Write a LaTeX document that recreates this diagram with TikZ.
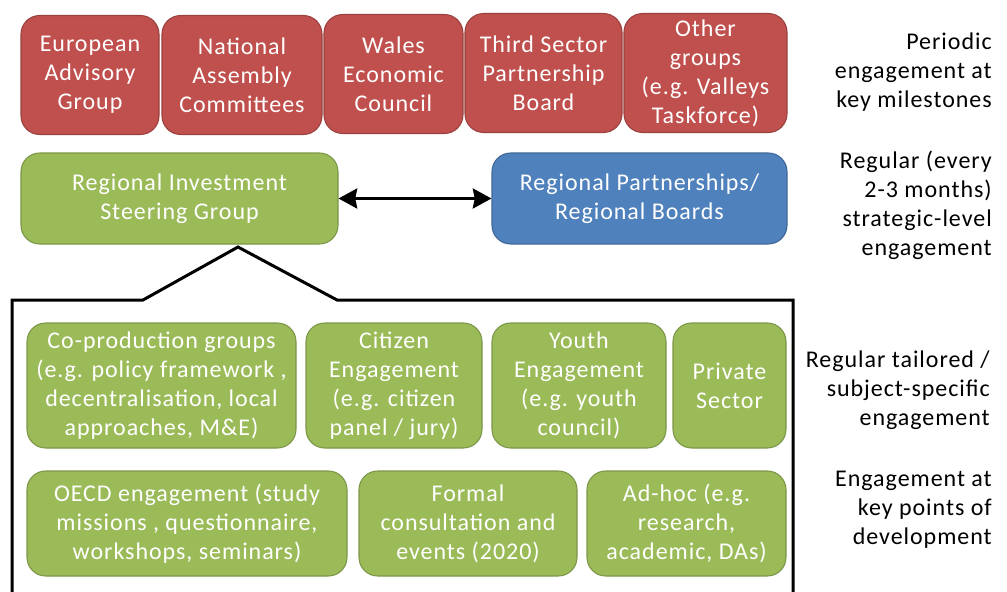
\documentclass[tikz,border=0pt]{standalone}
\usepackage{fontspec}
\setmainfont{Carlito}[LetterSpace=4]
\usetikzlibrary{arrows.meta}

\definecolor{boxred}{HTML}{C0504D}
\definecolor{boxgreen}{HTML}{9BBB59}
\definecolor{boxblue}{HTML}{4F81BD}

\tikzset{
	box/.style={rounded corners=14pt, line width=0.8pt, text=white, align=center,
		inner sep=0pt, font=\fontsize{18}{21.75}\selectfont},
	redbox/.style={box, fill=boxred, draw=boxred!80!black},
	greenbox/.style={box, fill=boxgreen, draw=boxgreen!80!black},
	bluebox/.style={box, fill=boxblue, draw=boxblue!80!black},
	note/.style={anchor=east, align=right, inner sep=0pt, font=\fontsize{18}{21.75}\selectfont},
	frame/.style={line width=2.25pt, line join=miter}
}

\begin{document}
\begin{tikzpicture}[x=0.75pt, y=-0.75pt]
	\useasboundingbox (0,0) rectangle (1007,592);
	
	%periodic groups
	\node[redbox, minimum width=103.5pt, minimum height=89.25pt] (eag) at (90,75) {European\\Advisory\\Group};
	\node[redbox, minimum width=120pt, minimum height=89.25pt] (nac) at (242,75) {National\\Assembly\\Committees};
	\node[redbox, minimum width=104.25pt, minimum height=89.25pt] (wec) at (393.5,74) {Wales\\Economic\\Council};
	\node[redbox, minimum width=117.75pt, minimum height=89.25pt] (tsp) at (543.5,73) {Third Sector\\Partnership\\Board};
	\node[redbox, minimum width=122.25pt, minimum height=89.25pt] (oth) at (705.5,73) {Other\\groups\\(e.g. Valleys\\Taskforce)};
	
	%strategic level
	\node[greenbox, minimum width=237.75pt, minimum height=68.25pt] (risg) at (179.5,198.5) {Regional Investment\\Steering Group};
	\node[bluebox, minimum width=221.25pt, minimum height=68.25pt] (rpb) at (639.5,198.5) {Regional Partnerships/\\Regional Boards};
	\draw[line width=2.25pt, {Stealth[length=14pt,width=15pt,inset=1.5pt]}-{Stealth[length=14pt,width=15pt,inset=1.5pt]}] (risg) -- (rpb);
	
	%frame round the tailored groups
	\coordinate (apex) at (238,247);
	\draw[frame] (12,600) -- (12,300) -- (143,300) -- (apex) -- (337,300) -- (793,300) -- (793,600);
	
	%tailored engagement
	\node[greenbox, minimum width=201.75pt, minimum height=93.75pt] (cop) at (161.5,385.5) {Co-production groups\\(e.g. policy framework ,\\decentralisation, local\\approaches, M\&E)};
	\node[greenbox, minimum width=132pt, minimum height=93.75pt] (cit) at (394,385.5) {Citizen\\Engagement\\(e.g. citizen\\panel / jury)};
	\node[greenbox, minimum width=130.5pt, minimum height=93.75pt] (yth) at (579,385.5) {Youth\\Engagement\\(e.g. youth\\council)};
	\node[greenbox, minimum width=84.75pt, minimum height=93.75pt] (prv) at (729.5,385.5) {Private\\Sector};
	
	%development points
	\node[greenbox, minimum width=240pt, minimum height=78.75pt] (oecd) at (187,523.5) {OECD engagement (study\\missions , questionnaire,\\workshops, seminars)};
	\node[greenbox, minimum width=163.5pt, minimum height=78.75pt] (frm) at (468,523.5) {Formal\\consultation and\\events (2020)};
	\node[greenbox, minimum width=149.25pt, minimum height=78.75pt] (adh) at (686.5,523.5) {Ad-hoc (e.g.\\research,\\academic, DAs)};
	
	%right hand notes
	\node[note] (n1) at (992,72) {Periodic\\engagement at\\key milestones};
	\node[note] (n2) at (992,205.5) {Regular (every\\2-3 months)\\strategic-level\\engagement};
	\node[note] (n3) at (990,390) {Regular tailored /\\subject-specific\\engagement};
	\node[note] (n4) at (992,510) {Engagement at\\key points of\\development};
\end{tikzpicture}
\end{document}
